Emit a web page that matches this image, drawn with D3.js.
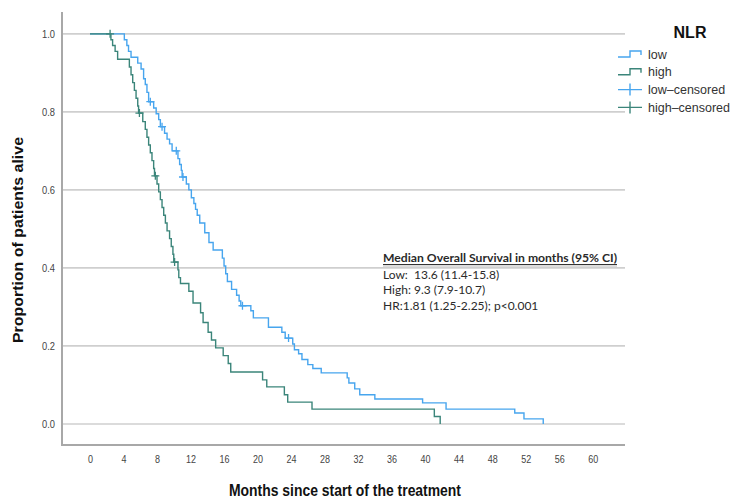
<!DOCTYPE html>
<html>
<head>
<meta charset="utf-8">
<script src="https://cdn.jsdelivr.net/npm/d3@7"></script>
<style>
  body { margin: 0; background: #fff; }
  svg { display: block; }
</style>
</head>
<body>
<div id="chart"></div>
<script>
// Kaplan-Meier data (months, proportion alive)
const lowTime = [0, 4.1, 4.4, 4.6, 4.9, 5.7, 6.1, 6.4, 6.6, 6.8, 7.0, 7.6, 7.9, 8.2, 8.4, 8.9, 9.2, 9.5, 9.8, 10.5,
  10.7, 10.9, 11.0, 11.5, 11.8, 12.1, 12.4, 12.6, 12.8, 13.1, 13.7, 14.2, 14.7, 15.8, 16.0, 16.2, 16.4, 16.9, 17.5, 17.8,
  18.0, 19.2, 19.5, 21.3, 22.9, 23.3, 24.2, 24.4, 24.9, 25.3, 26.0, 26.6, 27.6, 30.7, 30.9, 31.6, 32.2, 34.0, 39.7, 42.5,
  50.7, 51.8, 54.1];
const lowSurv = [1, 0.985, 0.97, 0.955, 0.94, 0.925, 0.91, 0.885, 0.87, 0.85, 0.826, 0.81, 0.795, 0.78, 0.762, 0.745, 0.73, 0.718, 0.70, 0.68,
  0.665, 0.65, 0.633, 0.615, 0.60, 0.58, 0.565, 0.55, 0.535, 0.515, 0.49, 0.465, 0.446, 0.425, 0.405, 0.385, 0.365, 0.345, 0.33, 0.315,
  0.303, 0.29, 0.272, 0.248, 0.235, 0.22, 0.205, 0.19, 0.18, 0.165, 0.152, 0.142, 0.131, 0.118, 0.105, 0.09, 0.075, 0.064, 0.054, 0.038,
  0.028, 0.013, 0];
const highTime = [0, 2.5, 2.7, 3.0, 3.3, 4.7, 4.9, 5.1, 5.3, 5.5, 5.7, 5.8, 6.3, 6.6, 6.8, 7.0, 7.2, 7.4, 7.6, 7.7,
  8.0, 8.2, 8.4, 8.6, 8.8, 9.0, 9.2, 9.5, 9.7, 9.9, 10.0, 10.5, 10.6, 10.8, 11.8, 12.3, 13.2, 13.5, 14.1, 14.5,
  15.0, 15.9, 16.5, 16.8, 20.6, 21.1, 23.2, 23.6, 26.5, 41.1, 41.8];
const highSurv = [1, 0.985, 0.97, 0.955, 0.935, 0.915, 0.895, 0.875, 0.855, 0.835, 0.815, 0.797, 0.775, 0.755, 0.735, 0.715, 0.695, 0.675, 0.655, 0.636,
  0.615, 0.595, 0.575, 0.555, 0.535, 0.515, 0.495, 0.475, 0.455, 0.435, 0.415, 0.395, 0.375, 0.36, 0.34, 0.31, 0.285, 0.26, 0.235, 0.215,
  0.195, 0.175, 0.155, 0.133, 0.113, 0.095, 0.075, 0.056, 0.038, 0.019, 0];

// censored observations
const lowCensorTime = [7.2, 8.6, 10.3, 11.1, 18.2, 23.7];
const lowCensorSurv = [0.826, 0.762, 0.70, 0.633, 0.303, 0.22];
const highCensorTime = [2.4, 5.9, 7.8, 10.1];
const highCensorSurv = [1.0, 0.797, 0.636, 0.415];

const xTicks = [0, 4, 8, 12, 16, 20, 24, 28, 32, 36, 40, 44, 48, 52, 56, 60];
const yTicks = [0, 0.2, 0.4, 0.6, 0.8, 1.0];
const legendLabels = ["low", "high", "low\u2013censored", "high\u2013censored"];
const noteLines = ["Median Overall Survival in months (95% CI)",
  "Low:  13.6 (11.4-15.8)", "High: 9.3 (7.9-10.7)", "HR:1.81 (1.25-2.25); p<0.001"];

const width = 732, height = 499;
const lowColor = "#47a5ee", highColor = "#3b857a";
const sans = "'Liberation Sans', Arial, sans-serif";

const x = d3.scaleLinear().domain([-3.34, 63.5]).range([62, 622]);
const y = d3.scaleLinear().domain([-0.054, 1.056]).range([445, 12]);

const svg = d3.select("#chart").append("svg")
  .attr("width", width).attr("height", height);

// gridlines
svg.append("g")
  .selectAll("line").data(yTicks).join("line")
  .attr("x1", 62).attr("x2", 625)
  .attr("y1", d => y(d)).attr("y2", d => y(d))
  .attr("stroke", "#cfcfcf").attr("stroke-width", 1.6);

// axes (labels only, frame drawn as lines)
const yAxis = svg.append("g")
  .attr("transform", "translate(62,0)")
  .call(d3.axisLeft(y).tickValues(yTicks).tickFormat(d3.format(".1f")).tickSize(0).tickPadding(7));
yAxis.select(".domain").remove();
yAxis.selectAll("text").attr("font-family", sans).attr("font-size", 10.5).attr("fill", "#444")
  .attr("textLength", 13).attr("lengthAdjust", "spacingAndGlyphs");

const xAxis = svg.append("g")
  .attr("transform", "translate(0,445)")
  .call(d3.axisBottom(x).tickValues(xTicks).tickSize(0).tickPadding(11));
xAxis.select(".domain").remove();
xAxis.selectAll("text").attr("font-family", sans).attr("font-size", 10.5).attr("fill", "#444")
  .attr("textLength", d => d < 10 ? 5 : 10).attr("lengthAdjust", "spacingAndGlyphs");

svg.append("line").attr("x1", 62).attr("x2", 62).attr("y1", 12).attr("y2", 446)
  .attr("stroke", "#a8a8a8").attr("stroke-width", 2);
svg.append("line").attr("x1", 61).attr("x2", 625).attr("y1", 445).attr("y2", 445)
  .attr("stroke", "#a8a8a8").attr("stroke-width", 2);

// survival curves
const line = d3.line()
  .x(d => x(d[0]))
  .y(d => y(d[1]))
  .curve(d3.curveStepAfter);

const lowData = lowTime.map((t, i) => [t, lowSurv[i]]);
const highData = highTime.map((t, i) => [t, highSurv[i]]);

svg.append("path").datum(lowData)
  .attr("fill", "none").attr("stroke", lowColor).attr("stroke-width", 1.4)
  .attr("d", line);
svg.append("path").datum(highData)
  .attr("fill", "none").attr("stroke", highColor).attr("stroke-width", 1.4)
  .attr("d", line);

function censorMarks(times, survs, color) {
  const pts = times.map((t, i) => [x(t), y(survs[i])]);
  svg.append("g").selectAll("path").data(pts).join("path")
    .attr("d", p => `M${p[0] - 4},${p[1]}H${p[0] + 4}M${p[0]},${p[1] - 4}V${p[1] + 4}`)
    .attr("stroke", color).attr("stroke-width", 1.3).attr("fill", "none");
}
censorMarks(lowCensorTime, lowCensorSurv, lowColor);
censorMarks(highCensorTime, highCensorSurv, highColor);

// axis titles (narrow bold look)
svg.append("text")
  .attr("transform", "translate(23,240) rotate(-90)")
  .attr("text-anchor", "middle")
  .attr("font-family", sans).attr("font-weight", "bold").attr("font-size", 15.5)
  .attr("fill", "#111")
  .attr("textLength", 206).attr("lengthAdjust", "spacingAndGlyphs")
  .text("Proportion of patients alive");

svg.append("text")
  .attr("x", 345).attr("y", 496)
  .attr("text-anchor", "middle")
  .attr("font-family", sans).attr("font-weight", "bold").attr("font-size", 16)
  .attr("fill", "#111")
  .attr("textLength", 232).attr("lengthAdjust", "spacingAndGlyphs")
  .text("Months since start of the treatment");

// legend
svg.append("text")
  .attr("x", 690).attr("y", 38).attr("text-anchor", "middle")
  .attr("font-family", sans).attr("font-weight", "bold")
  .attr("font-size", 16).attr("fill", "#111")
  .text("NLR");

const legendColors = [lowColor, highColor, lowColor, highColor];
const legend = svg.append("g");
legendLabels.forEach((lab, i) => {
  const ly = 54 + i * 17.8;
  if (i < 2) {
    legend.append("path")
      .attr("d", `M618,${ly + 3}H630V${ly - 3}H641V${ly + 1}`)
      .attr("fill", "none").attr("stroke", legendColors[i]).attr("stroke-width", 1.4);
  } else {
    legend.append("path")
      .attr("d", `M618,${ly}H642M630,${ly - 6}V${ly + 6}`)
      .attr("fill", "none").attr("stroke", legendColors[i]).attr("stroke-width", 1.4);
  }
  legend.append("text")
    .attr("x", 648).attr("y", ly + 4.5)
    .attr("font-family", sans).attr("font-size", 12.5)
    .attr("fill", "#333")
    .text(lab);
});

// median survival note
const note = svg.append("g").attr("font-family", "Lato, 'Open Sans', sans-serif").attr("fill", "#2a2a2a");
noteLines.forEach((txt, i) => {
  note.append("text")
    .attr("x", 383).attr("y", 262 + i * 15.6 + (i > 0 ? 1 : 0))
    .attr("font-size", 12)
    .attr("font-weight", i === 0 ? "bold" : "normal")
    .attr("textLength", i === 0 ? 234 : null)
    .attr("lengthAdjust", "spacingAndGlyphs")
    .style("white-space", "pre")
    .text(txt);
});
note.append("line").attr("x1", 383).attr("x2", 617).attr("y1", 264.5).attr("y2", 264.5)
  .attr("stroke", "#333").attr("stroke-width", 1);
note.append("line").attr("x1", 383).attr("x2", 617).attr("y1", 266).attr("y2", 266)
  .attr("stroke", "#bbb").attr("stroke-width", 1);
</script>
</body>
</html>
